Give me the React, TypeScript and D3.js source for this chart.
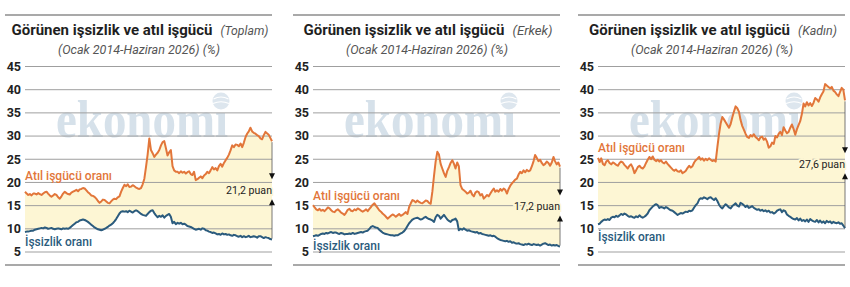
import * as d3 from 'd3';

// Monthly, Ocak 2014 - Haziran 2026
const months = d3.timeMonth.range(new Date(2014, 0, 1), new Date(2026, 6, 1));
const yTicks = [5, 10, 15, 20, 25, 30, 35, 40, 45];

const title = 'Görünen işsizlik ve atıl işgücü';
const subtitle = '(Ocak 2014-Haziran 2026) (%)';
const groups = ['Toplam', 'Erkek', 'Kadın'];
const atilLabel = 'Atıl işgücü oranı';
const issizLabel = 'İşsizlik oranı';

const toplamIssizlik = [
  9.3, 9.4, 9.4, 9.5, 9.6, 9.6, 9.8, 9.9, 10.0, 10.1,
  10.2, 10.1, 10.3, 10.2, 10.0, 10.1, 10.2, 10.0, 9.9, 10.0,
  10.1, 10.0, 9.9, 10.1, 10.0, 10.1, 10.0, 10.2, 10.5, 10.8,
  11.1, 11.4, 11.5, 11.8, 11.9, 12.0, 11.9, 11.7, 11.5, 11.2,
  10.9, 10.6, 10.3, 10.1, 9.9, 9.8, 9.7, 9.8, 10.0, 10.2,
  10.4, 10.7, 10.9, 11.2, 11.6, 12.1, 12.7, 13.3, 13.7, 13.8,
  13.7, 13.8, 13.6, 13.9, 13.7, 13.5, 13.8, 14.0, 13.8, 13.5,
  13.2, 13.0, 12.9, 12.8, 13.2, 13.6, 13.9, 14.0, 13.4, 12.9,
  12.5, 12.8, 12.6, 12.9, 12.4, 12.8, 13.0, 13.2, 12.6, 11.2,
  11.5, 11.0, 11.3, 11.1, 11.3, 11.0, 11.1, 10.9, 10.6, 10.5,
  10.4, 10.2, 10.0, 9.8, 9.9, 10.0, 9.8, 10.1, 10.0, 9.7,
  9.6, 9.4, 9.3, 9.1, 9.2, 9.0, 8.8, 8.9, 8.7, 9.0,
  8.8, 8.9, 8.7, 8.8, 8.6, 8.5, 8.7, 8.6, 8.4, 8.3,
  8.5, 8.2, 8.4, 8.2, 8.3, 8.5, 8.2, 8.3, 8.4, 8.3,
  8.1, 8.4, 8.4, 8.2, 8.0, 8.2, 8.1, 8.0, 7.8, 7.7,
];

const toplamAtil = [
  18.0, 17.6, 17.3, 17.5, 17.2, 17.6, 17.6, 17.4, 17.7, 17.5,
  17.3, 17.6, 17.9, 18.0, 17.6, 17.2, 16.9, 17.2, 17.5, 17.3,
  16.8, 16.5, 17.0, 17.6, 18.0, 17.7, 17.5, 17.4, 17.8, 18.0,
  18.2, 18.4, 18.1, 18.5, 18.6, 18.8, 18.7, 18.3, 17.9, 17.6,
  17.2, 17.1, 16.9, 16.5, 16.0, 15.6, 15.9, 16.3, 16.2, 15.9,
  15.6, 15.5, 15.9, 16.3, 16.5, 16.4, 16.8, 17.0, 18.0, 18.8,
  19.5, 19.2, 19.6, 19.0, 19.1, 19.4, 19.2, 18.9, 18.7, 18.6,
  18.8, 19.6, 20.8, 23.4, 26.0, 29.5, 27.0, 26.3, 25.5, 26.0,
  26.4, 27.0, 28.0, 28.7, 28.9, 27.3, 25.8, 26.5, 27.0, 23.5,
  22.6, 22.3, 22.3, 22.0, 22.4, 22.1, 22.3, 21.9, 22.2, 22.4,
  21.8, 21.6, 22.3, 20.5, 20.7, 21.0, 21.3, 20.9, 21.5, 21.8,
  22.3, 22.0, 22.6, 23.3, 22.8, 23.1, 22.6, 23.5, 24.0, 23.4,
  24.2, 24.8, 25.3, 26.0, 26.9, 28.0, 27.6, 28.2, 28.1, 27.8,
  28.4, 27.6, 28.6, 29.8, 30.5, 31.0, 31.8, 31.0, 30.7, 30.5,
  30.2, 30.0, 29.5, 29.3, 30.2, 30.9, 30.6, 30.3, 29.6, 28.9,
];

const erkekIssizlik = [
  8.4, 8.5, 8.6, 8.5, 8.7, 8.9, 9.0, 8.9, 9.1, 9.0,
  9.2, 9.3, 9.1, 9.2, 9.2, 9.0, 8.9, 9.1, 9.0, 8.8,
  8.9, 8.9, 9.0, 8.9, 9.1, 8.9, 9.0, 9.1, 9.2, 9.3,
  9.2, 9.4, 9.5, 9.6, 10.0, 10.4, 10.6, 10.4, 10.3, 10.2,
  9.8, 9.5, 9.2, 9.0, 8.9, 8.8, 8.7, 8.6, 8.6, 8.5,
  8.6, 8.6, 8.8, 9.0, 9.2, 9.5, 10.0, 10.6, 11.2, 11.6,
  12.0, 12.2, 12.3, 12.4, 12.2, 12.0, 12.1, 12.4, 12.6, 12.3,
  12.1, 12.0, 11.8, 11.5, 12.5, 13.0, 12.8, 12.2, 12.6, 13.0,
  12.5, 12.0, 11.7, 11.5, 11.9, 12.0, 12.2, 11.6, 9.7, 10.0,
  9.8, 10.1, 9.8, 9.6, 9.7, 9.5, 9.4, 9.3, 9.2, 9.3,
  9.0, 9.1, 8.9, 8.8, 8.7, 8.6, 8.5, 8.6, 8.4, 8.5,
  8.3, 8.0, 7.8, 7.6, 7.5, 7.4, 7.3, 7.4, 7.2, 7.3,
  7.0, 7.1, 6.9, 6.8, 6.9, 6.7, 6.6, 6.5, 6.7, 6.6,
  6.8, 6.6, 6.5, 6.7, 6.6, 6.5, 6.6, 6.4, 6.6, 6.8,
  6.9, 6.7, 6.5, 6.6, 6.4, 6.5, 6.4, 6.5, 6.3, 6.2,
];

const erkekAtil = [
  15.1, 14.6, 14.2, 14.0, 14.3, 13.9, 14.1, 13.8, 14.2, 14.6,
  14.4, 14.0, 13.7, 13.6, 14.0, 14.2, 13.9, 13.5, 13.3, 13.0,
  13.5, 14.1, 14.3, 13.9, 13.8, 14.2, 14.0, 14.4, 14.2, 13.9,
  13.7, 13.9, 14.2, 13.8, 14.3, 14.7, 15.2, 15.5, 15.0, 14.5,
  14.0, 13.7, 13.3, 13.0, 12.6, 12.2, 12.5, 12.8, 13.1, 12.9,
  12.6, 12.9, 13.2, 12.8, 13.0, 13.3, 13.6, 13.2, 14.7, 15.5,
  16.2, 16.0, 15.7, 16.1, 15.8, 15.6, 15.5, 15.8, 16.1, 16.0,
  15.6, 15.4, 18.0, 21.5, 24.5, 26.6, 26.0, 24.0, 23.0, 22.0,
  21.2, 22.5, 23.3, 24.2, 24.8, 24.0, 23.0, 24.3, 23.5, 19.4,
  18.6, 18.3, 18.0, 17.6, 17.8, 18.2, 17.4, 17.0, 17.8, 18.1,
  17.9, 17.2, 17.5, 16.5, 16.9, 17.3, 17.0, 17.6, 18.2, 18.7,
  18.0, 18.3, 18.0, 18.6, 18.2, 18.7, 18.4, 17.6, 18.6, 19.3,
  19.8, 20.2, 20.6, 20.8, 21.7, 22.3, 22.0, 22.6, 22.2, 22.7,
  22.4, 22.6, 23.5, 24.6, 25.9, 25.3, 24.6, 24.9, 24.2, 23.7,
  24.0, 24.5, 24.2, 23.6, 24.3, 25.5, 24.6, 23.9, 24.3, 23.4,
];

const kadinIssizlik = [
  11.0, 11.1, 11.5, 11.8, 12.0, 11.9, 12.1, 11.9, 12.4, 12.6,
  12.5, 12.8, 12.6, 12.9, 13.2, 13.0, 13.3, 13.1, 12.8, 12.6,
  12.7, 12.5, 12.4, 12.7, 12.5, 12.9, 12.6, 12.4, 12.6, 12.9,
  13.3, 14.0, 14.4, 14.8, 15.1, 15.3, 15.1, 14.5, 14.7, 14.6,
  14.4, 14.7, 14.5, 14.2, 14.0, 13.9, 13.6, 13.3, 13.0, 13.2,
  13.4, 13.3, 13.5, 13.7, 13.6, 13.9, 13.8, 14.0, 14.6, 15.1,
  15.5, 16.3, 16.6, 16.5, 16.8, 16.6, 16.4, 16.7, 16.8, 16.5,
  16.2, 16.6, 16.0, 15.2, 14.7, 14.4, 14.9, 15.3, 15.0, 14.6,
  14.4, 14.9, 15.2, 15.5, 15.0, 14.8, 15.6, 15.4, 15.1, 14.7,
  15.0, 14.5, 14.7, 14.9, 14.5, 14.3, 14.1, 14.2, 13.9, 14.1,
  13.8, 14.0, 13.7, 13.9, 13.5, 13.6, 13.3, 13.5, 13.9, 14.1,
  14.2, 13.6, 14.0, 13.8, 13.1, 12.8, 12.6, 12.3, 12.1, 12.0,
  12.3, 11.8, 12.2, 11.7, 11.9, 11.6, 12.0, 11.5, 12.1, 11.8,
  11.6, 11.5, 11.9, 11.4, 11.8, 11.3, 11.6, 11.2, 11.7, 11.4,
  11.6, 11.2, 11.5, 11.3, 11.2, 11.4, 11.1, 11.2, 10.7, 10.1,
];

const kadinAtil = [
  25.3, 24.4, 25.2, 24.0, 23.7, 24.5, 24.8, 24.2, 23.9, 24.3,
  24.1, 23.8, 23.6, 24.2, 24.5, 24.3, 23.8, 23.4, 23.0, 23.6,
  23.9, 23.2, 22.0, 22.6, 23.3, 23.6, 23.2, 23.0, 23.4, 24.2,
  24.9, 25.5, 25.0, 25.6, 24.9, 24.6, 24.9, 24.5, 24.8, 24.3,
  24.1, 24.5, 24.0, 23.6, 23.2, 22.8, 22.5, 22.8, 22.4, 22.3,
  22.6, 22.0, 22.2, 22.5, 23.1, 23.6, 23.2, 23.5, 24.3, 24.8,
  25.1, 25.5, 24.9, 25.2, 24.7, 25.1, 24.8, 25.2, 24.9, 24.6,
  24.8, 24.5, 27.6, 30.5, 32.7, 34.1, 33.6, 33.0, 32.4, 31.8,
  32.6, 34.0, 35.3, 36.4, 36.0, 35.2, 33.5, 32.2, 31.4, 30.5,
  29.8, 29.6, 30.2, 29.9, 30.4, 29.8, 29.5, 29.1, 29.7, 29.9,
  29.2, 29.5, 28.8, 27.5, 27.8, 28.6, 28.3, 30.0, 29.7, 30.5,
  30.9, 30.2, 31.9, 31.2, 30.6, 30.9, 31.8, 32.5, 31.5, 30.3,
  31.5, 32.4, 33.2, 34.8, 37.0, 36.4, 37.3, 36.6, 37.1, 36.5,
  37.2, 38.2, 37.9, 37.4, 38.3, 39.0, 39.6, 41.2, 40.9, 40.6,
  40.3, 40.6, 39.8, 39.5, 39.0, 38.6, 39.5, 40.4, 40.0, 37.7,
];

const ORANGE = '#e2763a';
const BLUE = '#2b5b7d';
const FILL = '#fdf6d4';
const GRID = '#9f9f9f';
const RULE = '#8c8c8c';
const FONT = 'Roboto, "Noto Sans", sans-serif';

interface PanelDef {
  group: string;
  atil: number[];
  issizlik: number[];
  offset: number;
  suffixW: number;
  atilLabelY: number;
  issizLabelY: number;
}

const panels: PanelDef[] = [
  { group: groups[0], atil: toplamAtil, issizlik: toplamIssizlik, offset: 0, suffixW: 48, atilLabelY: 180, issizLabelY: 246 },
  { group: groups[1], atil: erkekAtil, issizlik: erkekIssizlik, offset: 288, suffixW: 40, atilLabelY: 200, issizLabelY: 250 },
  { group: groups[2], atil: kadinAtil, issizlik: kadinIssizlik, offset: 573, suffixW: 39, atilLabelY: 152, issizLabelY: 241 },
];

const x = d3.scaleTime().domain([months[0], months[months.length - 1]]).range([25, 272]);
const y = d3.scaleLinear().domain([5, 45]).range([252, 66.5]);

function Panel({ p }: { p: PanelDef }) {
  const line = d3.line<number>().x((_, i) => x(months[i])).y((d) => y(d));
  const area = d3
    .area<number>()
    .x((_, i) => x(months[i]))
    .y0((_, i) => y(p.issizlik[i]))
    .y1((d) => y(d));

  const n = p.atil.length - 1;
  const endX = x(months[n]);
  const yTop = y(p.atil[n]);
  const yBot = y(p.issizlik[n]);
  const mid = y((p.atil[n] + p.issizlik[n]) / 2);
  const gap = (p.atil[n] - p.issizlik[n]).toFixed(1).replace('.', ',');

  const mainW = 201;
  const totalW = mainW + 8 + p.suffixW;
  const tx = 140 - totalW / 2;

  return (
    <g transform={`translate(${p.offset},0)`}>
      <line x1={5} x2={272} y1={15} y2={15} stroke={RULE} strokeWidth={1.5} />
      <line x1={5} x2={272} y1={265} y2={265} stroke={RULE} strokeWidth={1.5} />

      <text x={tx} y={35} fontSize={15} fontWeight={700} fill="#1f1f1f" textLength={mainW} lengthAdjust="spacingAndGlyphs">
        {title}
      </text>
      <text x={tx + mainW + 8} y={35} fontSize={12.5} fontStyle="italic" fill="#555" textLength={p.suffixW} lengthAdjust="spacingAndGlyphs">
        ({p.group})
      </text>
      <text x={139} y={53.5} fontSize={12} fontStyle="italic" fill="#555" textAnchor="middle" textLength={162} lengthAdjust="spacingAndGlyphs">
        {subtitle}
      </text>

      {/* watermark */}
      <g fill="#d6e1ea">
        <text x={56} y={137} fontFamily='"Liberation Serif", "DejaVu Serif", serif' fontWeight={700} fontSize={52} textLength={172} lengthAdjust="spacingAndGlyphs">
          ekonomı
        </text>
        <circle cx={221} cy={101} r={8.5} fill="#dde6ee" />
        <path d="M213.5,99 Q221,95 228.5,99 M213,103.5 Q221,100 229,103.5" stroke="#fff" strokeWidth={1.2} fill="none" />
      </g>

      <path d={area(p.atil) ?? ''} fill={FILL} />

      {yTicks.map((t) => (
        <g key={t}>
          <line x1={25} x2={272} y1={y(t)} y2={y(t)} stroke={GRID} strokeWidth={1} />
          <text x={21} y={y(t) + 4.3} fontSize={12.5} fontWeight={700} fill="#222" textAnchor="end">
            {t}
          </text>
        </g>
      ))}

      <path d={line(p.issizlik) ?? ''} fill="none" stroke={BLUE} strokeWidth={2} strokeLinejoin="round" />
      <path d={line(p.atil) ?? ''} fill="none" stroke={ORANGE} strokeWidth={2} strokeLinejoin="round" />

      <text x={25} y={p.atilLabelY} fontSize={13} fontWeight={500} fill={ORANGE} textLength={87} lengthAdjust="spacingAndGlyphs">
        {atilLabel}
      </text>
      <text x={25} y={p.issizLabelY} fontSize={13} fontWeight={500} fill={BLUE} textLength={67} lengthAdjust="spacingAndGlyphs">
        {issizLabel}
      </text>

      {/* gap annotation */}
      <line x1={endX} x2={endX} y1={yTop + 1} y2={mid - 16} stroke="#555" strokeWidth={0.8} />
      <line x1={endX} x2={endX} y1={mid + 14} y2={yBot - 1} stroke="#555" strokeWidth={0.8} />
      <path d={`M${endX - 3},${mid - 17} L${endX + 3},${mid - 17} L${endX},${mid - 11} Z`} fill="#111" />
      <path d={`M${endX - 3},${mid + 15} L${endX + 3},${mid + 15} L${endX},${mid + 9} Z`} fill="#111" />
      <text
        x={endX}
        y={mid + 3.5}
        fontSize={11.5}
        fill="#222"
        textAnchor="end"
        stroke={FILL}
        strokeWidth={4}
        paintOrder="stroke"
        textLength={46}
        lengthAdjust="spacingAndGlyphs"
      >
        {gap} puan
      </text>
    </g>
  );
}

export default function App() {
  return (
    <svg
      width={850}
      height={287}
      viewBox="0 0 850 287"
      style={{ position: 'absolute', left: 0, top: 0, background: '#fff' }}
      fontFamily={FONT}
    >
      {panels.map((p) => (
        <Panel key={p.group} p={p} />
      ))}
    </svg>
  );
}
